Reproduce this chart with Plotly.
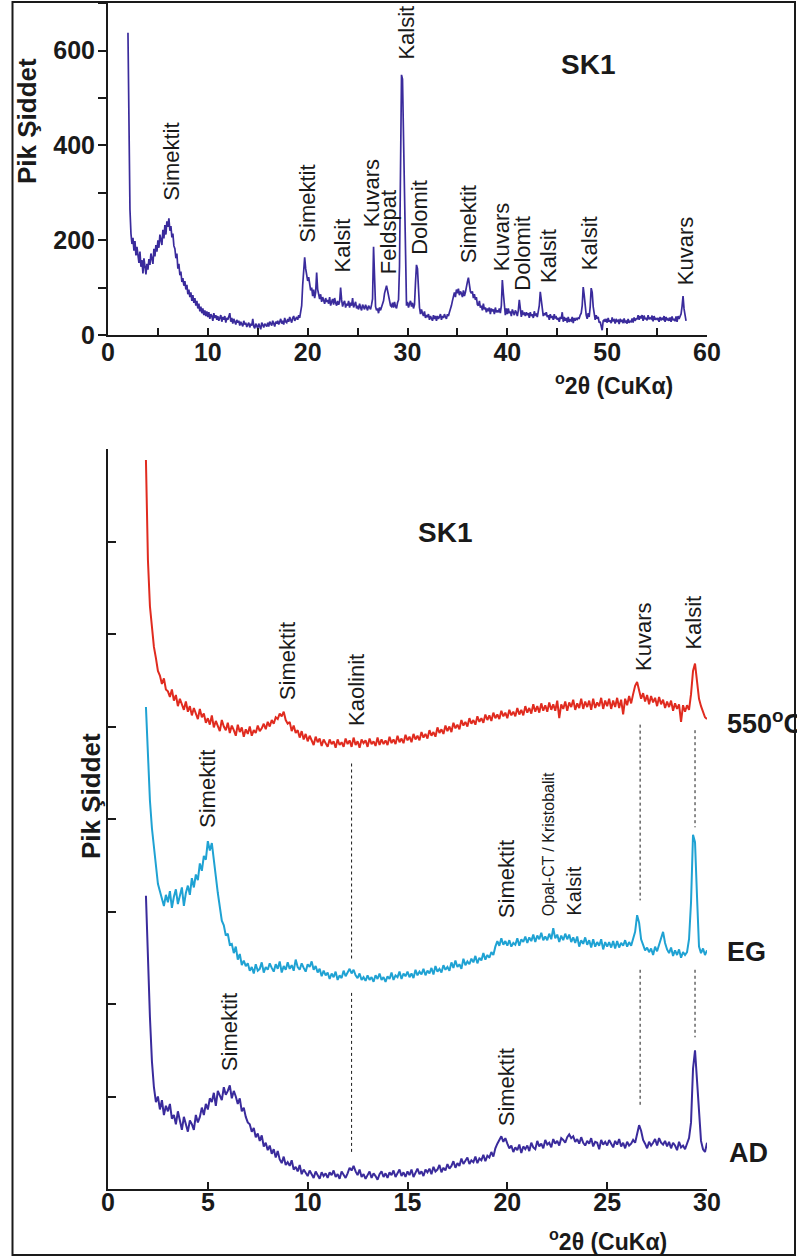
import plotly.graph_objects as go

W, H = 797, 1258
FONT = "Liberation Sans, Arial, sans-serif"
INK = "#1a1a1a"

# ---------------------------------------------------------------------------
# Bulk (whole-rock) pattern, SK1: counts per 0.1° step, 2.0° .. 57.9° 2θ
# one row per degree
# ---------------------------------------------------------------------------
bulk_start = 2.0
bulk_step = 0.1
bulk_counts = [
    638, 380, 265, 214, 192, 205, 178, 198, 168, 186,   # 2
    170, 152, 176, 144, 158, 130, 162, 140, 128, 150,   # 3
    138, 160, 148, 172, 156, 150, 182, 166, 190, 176,   # 4
    200, 184, 212, 196, 190, 222, 204, 232, 212, 240,   # 5
    228, 246, 220, 230, 206, 214, 188, 182, 162, 172,   # 6
    140, 150, 126, 134, 112, 120, 104, 114, 96, 106,    # 7
    86, 96, 80, 90, 72, 84, 68, 78, 62, 72,             # 8
    56, 66, 50, 60, 46, 56, 42, 52, 40, 50,             # 9
    38, 48, 34, 44, 40, 30, 46, 36, 42, 32,             # 10
    40, 30, 36, 42, 28, 38, 32, 40, 26, 36,             # 11
    32, 38, 46, 28, 36, 24, 34, 28, 22, 32,             # 12
    26, 30, 20, 28, 24, 18, 30, 22, 26, 17,             # 13
    22, 26, 16, 24, 20, 34, 18, 14, 24, 19,             # 14
    14, 24, 18, 12, 26, 20, 16, 24, 22, 18,             # 15
    26, 18, 28, 22, 20, 30, 24, 18, 28, 24,             # 16
    30, 22, 28, 34, 24, 30, 22, 36, 28, 26,             # 17
    34, 28, 38, 30, 26, 36, 40, 30, 34, 38,             # 18
    32, 42, 36, 46, 62, 105, 150, 164, 140, 126,        # 19
    114, 122, 102, 94, 100, 82, 96, 78, 90, 132,        # 20
    96, 84, 76, 86, 70, 80, 72, 66, 78, 70,             # 21
    74, 66, 80, 62, 70, 76, 64, 78, 68, 62,             # 22
    72, 64, 70, 100, 74, 60, 68, 72, 58, 66,            # 23
    62, 72, 58, 68, 62, 78, 58, 64, 70, 56,             # 24
    62, 54, 66, 58, 52, 64, 60, 54, 64, 56,             # 25
    52, 62, 58, 54, 64, 76, 186, 124, 60, 52,           # 26
    56, 46, 58, 52, 60, 64, 72, 88, 98, 104,            # 27
    94, 82, 72, 62, 60, 68, 58, 70, 60, 56,             # 28
    68, 74, 145, 300, 549, 540, 420, 245, 120, 62,      # 29
    70, 58, 66, 72, 60, 68, 56, 64, 110, 148,           # 30
    140, 76, 58, 44, 54, 46, 40, 50, 36, 42,            # 31
    38, 44, 32, 40, 36, 30, 42, 34, 40, 30,             # 32
    40, 34, 38, 44, 32, 40, 36, 44, 38, 34,             # 33
    44, 40, 48, 54, 62, 72, 84, 90, 80, 96,             # 34
    88, 98, 84, 92, 88, 80, 94, 82, 90, 98,             # 35
    112, 121, 100, 92, 88, 92, 78, 86, 74, 80,          # 36
    64, 62, 72, 58, 62, 52, 66, 54, 58, 48,             # 37
    56, 50, 58, 44, 56, 50, 54, 44, 58, 48,             # 38
    52, 48, 56, 46, 62, 116, 88, 52, 42, 56,            # 39
    44, 56, 46, 50, 40, 54, 46, 42, 52, 48,             # 40
    40, 52, 74, 48, 38, 52, 44, 46, 40, 48,             # 41
    42, 46, 36, 48, 40, 44, 36, 50, 42, 44,             # 42
    38, 50, 62, 91, 70, 50, 40, 46, 42, 48,             # 43
    38, 42, 32, 44, 36, 40, 32, 44, 36, 38,             # 44
    32, 36, 28, 38, 34, 48, 28, 38, 30, 36,             # 45
    26, 38, 28, 32, 30, 38, 25, 36, 30, 35,             # 46
    33, 36, 35, 42, 46, 62, 101, 84, 54, 42,            # 47
    34, 46, 38, 60, 99, 90, 60, 42, 32, 42,             # 48
    34, 38, 26, 28, 20, 10, 30, 32, 28, 34,             # 49
    26, 36, 28, 31, 25, 37, 30, 32, 24, 34,             # 50
    29, 31, 23, 34, 28, 32, 25, 35, 27, 29,             # 51
    24, 34, 26, 29, 28, 35, 26, 37, 30, 34,             # 52
    34, 42, 32, 40, 35, 42, 30, 41, 33, 36,             # 53
    31, 42, 33, 36, 34, 41, 29, 40, 32, 35,             # 54
    33, 36, 28, 38, 31, 35, 33, 40, 28, 38,             # 55
    31, 34, 30, 37, 28, 39, 31, 34, 29, 39,             # 56
    28, 40, 34, 38, 44, 60, 82, 55, 38, 30,             # 57
]

# peak labels on the bulk pattern
bulk_labels = ["Simektit", "Simektit", "Kalsit", "Kuvars", "Feldspat", "Kalsit",
               "Dolomit", "Simektit", "Kuvars", "Dolomit", "Kalsit", "Kalsit", "Kuvars"]
bulk_label_x = [6.4, 20.0, 23.5, 26.4, 28.1, 29.95, 31.2, 36.1, 39.5, 41.5, 44.1, 48.3, 57.8]
bulk_label_y = [279, 190, 127, 222, 123, 577, 165, 148, 131, 89, 106, 133, 101]

# ---------------------------------------------------------------------------
# Oriented clay fraction, SK1: 1.9° .. 30.0° 2θ in 0.1° steps (offset units)
# AD = air dried, EG = ethylene glycol, 550 °C = heated
# ---------------------------------------------------------------------------
clay_start = 1.9
clay_step = 0.1

ad_counts = [
    3.17,
    2.45, 1.86, 1.38, 1.10, 0.94, 1.00, 0.86, 0.96, 0.80, 0.90,   # 2
    0.84, 0.92, 0.76, 0.80, 0.70, 0.84, 0.74, 0.64, 0.78, 0.70,   # 3
    0.62, 0.74, 0.70, 0.64, 0.80, 0.72, 0.78, 0.88, 0.80, 0.92,   # 4
    0.86, 0.98, 0.94, 1.04, 0.90, 1.06, 1.00, 0.96, 1.10, 1.02,   # 5
    1.06, 1.12, 0.98, 1.06, 1.00, 0.92, 0.98, 0.84, 0.88, 0.78,   # 6
    0.72, 0.70, 0.62, 0.66, 0.56, 0.60, 0.52, 0.58, 0.46, 0.50,   # 7
    0.42, 0.47, 0.38, 0.43, 0.34, 0.41, 0.32, 0.28, 0.35, 0.26,   # 8
    0.29, 0.25, 0.31, 0.21, 0.24, 0.19, 0.26, 0.16, 0.21, 0.18,   # 9
    0.14, 0.20, 0.16, 0.12, 0.19, 0.15, 0.11, 0.18, 0.14, 0.17,   # 10
    0.12, 0.18, 0.15, 0.20, 0.13, 0.16, 0.11, 0.19, 0.15, 0.12,   # 11
    0.17, 0.23, 0.20, 0.25, 0.19, 0.15, 0.21, 0.13, 0.16, 0.11,   # 12
    0.15, 0.19, 0.12, 0.17, 0.14, 0.10, 0.16, 0.19, 0.13, 0.17,   # 13
    0.12, 0.18, 0.15, 0.20, 0.13, 0.17, 0.21, 0.14, 0.18, 0.13,   # 14
    0.19, 0.15, 0.21, 0.13, 0.18, 0.22, 0.16, 0.19, 0.14, 0.21,   # 15
    0.18, 0.22, 0.16, 0.24, 0.19, 0.21, 0.26, 0.18, 0.23, 0.20,   # 16
    0.27, 0.22, 0.25, 0.30, 0.23, 0.28, 0.25, 0.33, 0.27, 0.30,   # 17
    0.34, 0.27, 0.31, 0.29, 0.35, 0.28, 0.33, 0.31, 0.37, 0.30,   # 18
    0.36, 0.34, 0.40, 0.35, 0.44, 0.49, 0.53, 0.57, 0.51, 0.55,   # 19
    0.49, 0.44, 0.47, 0.40, 0.45, 0.42, 0.48, 0.39, 0.46, 0.43,   # 20
    0.47, 0.41, 0.50, 0.45, 0.43, 0.52, 0.46, 0.49, 0.44, 0.53,   # 21
    0.48, 0.50, 0.45, 0.54, 0.49, 0.52, 0.47, 0.55, 0.53, 0.50,   # 22
    0.56, 0.59, 0.55, 0.57, 0.51, 0.54, 0.49, 0.56, 0.50, 0.47,   # 23
    0.52, 0.49, 0.55, 0.46, 0.51, 0.50, 0.43, 0.53, 0.48, 0.51,   # 24
    0.47, 0.53, 0.49, 0.45, 0.52, 0.48, 0.54, 0.46, 0.50, 0.44,   # 25
    0.51, 0.47, 0.49, 0.53, 0.50, 0.60, 0.69, 0.63, 0.53, 0.49,   # 26
    0.44, 0.51, 0.47, 0.50, 0.54, 0.47, 0.55, 0.50, 0.48, 0.52,   # 27
    0.46, 0.51, 0.44, 0.50, 0.47, 0.42, 0.51, 0.45, 0.47, 0.43,   # 28
    0.49, 0.55, 0.72, 1.30, 1.50, 1.20, 0.85, 0.52, 0.43, 0.40,   # 29
    0.50,
]

eg_counts = [
    5.21,
    4.65, 4.20, 3.90, 3.68, 3.50, 3.30, 3.22, 3.15, 3.06, 3.18,   # 2
    3.10, 3.22, 3.04, 3.16, 3.24, 3.08, 3.18, 3.26, 3.06, 3.20,   # 3
    3.28, 3.18, 3.36, 3.26, 3.40, 3.34, 3.52, 3.44, 3.60, 3.56,   # 4
    3.76, 3.66, 3.74, 3.52, 3.38, 3.20, 3.02, 2.90, 2.85, 2.74,   # 5
    2.76, 2.64, 2.65, 2.55, 2.62, 2.48, 2.54, 2.42, 2.47, 2.41,   # 6
    2.44, 2.36, 2.40, 2.33, 2.43, 2.36, 2.38, 2.45, 2.34, 2.40,   # 7
    2.37, 2.44, 2.39, 2.35, 2.43, 2.38, 2.46, 2.34, 2.41, 2.37,   # 8
    2.45, 2.38, 2.42, 2.36, 2.48, 2.40, 2.37, 2.44, 2.39, 2.35,   # 9
    2.43, 2.40, 2.46, 2.37, 2.41, 2.34, 2.38, 2.30, 2.36, 2.31,   # 10
    2.34, 2.27, 2.33, 2.29, 2.35, 2.26, 2.31, 2.28, 2.36, 2.30,   # 11
    2.34, 2.38, 2.33, 2.37, 2.31, 2.28, 2.33, 2.26, 2.29, 2.25,   # 12
    2.31, 2.26, 2.29, 2.24, 2.31, 2.27, 2.33, 2.26, 2.29, 2.24,   # 13
    2.30, 2.27, 2.34, 2.26, 2.31, 2.29, 2.35, 2.27, 2.33, 2.30,   # 14
    2.35, 2.29, 2.33, 2.28, 2.37, 2.31, 2.35, 2.32, 2.38, 2.31,   # 15
    2.36, 2.33, 2.39, 2.32, 2.41, 2.35, 2.38, 2.34, 2.42, 2.37,   # 16
    2.40, 2.36, 2.45, 2.39, 2.47, 2.40, 2.43, 2.38, 2.49, 2.42,   # 17
    2.46, 2.43, 2.49, 2.45, 2.52, 2.44, 2.50, 2.47, 2.55, 2.48,   # 18
    2.53, 2.50, 2.56, 2.53, 2.62, 2.68, 2.63, 2.71, 2.64, 2.68,   # 19
    2.63, 2.69, 2.62, 2.66, 2.64, 2.71, 2.63, 2.70, 2.67, 2.73,   # 20
    2.66, 2.72, 2.68, 2.75, 2.67, 2.74, 2.70, 2.77, 2.69, 2.73,   # 21
    2.69, 2.76, 2.70, 2.82, 2.71, 2.75, 2.67, 2.74, 2.69, 2.76,   # 22
    2.70, 2.75, 2.67, 2.72, 2.66, 2.73, 2.62, 2.69, 2.65, 2.72,   # 23
    2.64, 2.69, 2.61, 2.70, 2.62, 2.67, 2.63, 2.70, 2.59, 2.67,   # 24
    2.62, 2.67, 2.61, 2.68, 2.60, 2.68, 2.61, 2.66, 2.63, 2.69,   # 25
    2.62, 2.67, 2.63, 2.70, 2.78, 2.96, 2.88, 2.70, 2.63, 2.58,   # 26
    2.61, 2.56, 2.60, 2.53, 2.62, 2.57, 2.64, 2.72, 2.78, 2.66,   # 27
    2.59, 2.55, 2.61, 2.52, 2.58, 2.53, 2.59, 2.50, 2.56, 2.53,   # 28
    2.56, 2.70, 3.10, 3.83, 3.75, 3.16, 2.62, 2.55, 2.60, 2.53,   # 29
    2.58,
]

heated_counts = [
    7.88,
    6.80, 6.30, 6.05, 5.86, 5.74, 5.60, 5.55, 5.46, 5.52, 5.40,   # 2
    5.38, 5.32, 5.40, 5.28, 5.34, 5.22, 5.30, 5.25, 5.18, 5.27,   # 3
    5.16, 5.22, 5.12, 5.20, 5.15, 5.08, 5.19, 5.10, 5.14, 5.04,   # 4
    5.09, 5.02, 5.12, 4.99, 5.06, 5.01, 4.95, 5.07, 5.00, 4.96,   # 5
    5.04, 4.93, 5.01, 4.96, 4.90, 5.02, 4.94, 4.99, 4.89, 4.97,   # 6
    4.92, 5.00, 4.90, 4.96, 4.93, 5.01, 4.95, 4.98, 5.03, 4.97,   # 7
    5.05, 5.00, 5.07, 5.03, 5.10, 5.08, 5.14, 5.11, 5.16, 5.07,   # 8
    5.03, 5.05, 4.95, 5.01, 4.93, 4.96, 4.88, 4.95, 4.86, 4.92,   # 9
    4.84, 4.90, 4.85, 4.80, 4.89, 4.83, 4.87, 4.79, 4.86, 4.82,   # 10
    4.78, 4.86, 4.81, 4.84, 4.77, 4.86, 4.80, 4.83, 4.78, 4.87,   # 11
    4.81, 4.85, 4.78, 4.88, 4.80, 4.84, 4.77, 4.86, 4.82, 4.85,   # 12
    4.78, 4.87, 4.81, 4.84, 4.79, 4.88, 4.80, 4.86, 4.81, 4.85,   # 13
    4.80, 4.89, 4.82, 4.86, 4.81, 4.90, 4.83, 4.87, 4.82, 4.91,   # 14
    4.85, 4.89, 4.83, 4.92, 4.86, 4.90, 4.85, 4.94, 4.88, 4.92,   # 15
    4.87, 4.96, 4.90, 4.94, 4.89, 4.99, 4.93, 4.97, 4.92, 5.01,   # 16
    4.95, 5.00, 4.94, 5.04, 4.98, 5.02, 4.97, 5.07, 5.01, 5.05,   # 17
    5.00, 5.09, 5.03, 5.07, 5.02, 5.11, 5.05, 5.09, 5.04, 5.13,   # 18
    5.07, 5.12, 5.06, 5.15, 5.09, 5.13, 5.08, 5.17, 5.11, 5.15,   # 19
    5.09, 5.18, 5.12, 5.16, 5.11, 5.20, 5.13, 5.18, 5.12, 5.22,   # 20
    5.15, 5.20, 5.14, 5.24, 5.16, 5.22, 5.15, 5.25, 5.17, 5.23,   # 21
    5.16, 5.26, 5.18, 5.24, 5.17, 5.28, 5.09, 5.24, 5.19, 5.27,   # 22
    5.17, 5.26, 5.21, 5.29, 5.18, 5.25, 5.20, 5.30, 5.19, 5.27,   # 23
    5.21, 5.28, 5.18, 5.30, 5.20, 5.26, 5.22, 5.31, 5.19, 5.28,   # 24
    5.22, 5.30, 5.19, 5.28, 5.21, 5.31, 5.20, 5.29, 5.13, 5.30,   # 25
    5.23, 5.33, 5.25, 5.35, 5.44, 5.48, 5.38, 5.30, 5.36, 5.27,   # 26
    5.34, 5.24, 5.33, 5.26, 5.31, 5.22, 5.32, 5.24, 5.29, 5.20,   # 27
    5.27, 5.21, 5.28, 5.17, 5.25, 5.19, 5.24, 5.05, 5.23, 5.16,   # 28
    5.23, 5.18, 5.35, 5.60, 5.68, 5.45, 5.30, 5.22, 5.17, 5.10,   # 29
    5.08,
]

clay_labels = ["Simektit", "Kaolinit", "Kuvars", "Kalsit",
               "Simektit", "Simektit", "Kalsit",
               "Simektit", "Simektit"]
clay_label_x = [9.0, 12.45, 26.85, 29.35, 4.95, 19.95, 23.35, 6.1, 20.0]
clay_label_y = [5.26, 4.98, 5.58, 5.81, 3.88, 2.91, 2.93, 1.25, 0.66]
clay_label_size = [22, 22, 22, 22, 22, 22, 20, 22, 22]
opal_label = "Opal-CT / Kristobalit"
opal_x, opal_y = 22.1, 2.93

# dotted guide lines: (2θ, [(y0, y1), ...])
guide_x = [12.2, 26.65, 29.4]
guide_spans = [[(4.60, 2.48), (2.12, 0.39)],
               [(5.02, 3.12), (2.37, 0.88)],
               [(4.96, 3.91), (2.37, 1.64)]]

treatments = ["550<sup>o</sup>C", "EG", "AD"]
treatment_px = [(725, 722), (725, 952), (727, 1153)]

PURPLE = "#3a2b9c"
CYAN = "#1fa2d3"
RED = "#e02b1f"


def grid(start, step, n):
    return [round(start + step * i, 2) for i in range(n)]


def px_x(p):
    return p / W


def px_y(p):
    return 1 - p / H


fig = go.Figure()

fig.add_trace(go.Scatter(x=grid(bulk_start, bulk_step, len(bulk_counts)), y=bulk_counts,
                         mode="lines", line=dict(color=PURPLE, width=1.7),
                         xaxis="x", yaxis="y", hoverinfo="skip"))

clay_x = grid(clay_start, clay_step, len(ad_counts))
for vals, col in [(heated_counts, RED), (eg_counts, CYAN), (ad_counts, PURPLE)]:
    fig.add_trace(go.Scatter(x=clay_x, y=vals, mode="lines",
                             line=dict(color=col, width=2),
                             xaxis="x2", yaxis="y2", hoverinfo="skip"))

tick_font = dict(family=FONT, size=25, color=INK, weight="bold")
axis_common = dict(showline=True, linecolor=INK, linewidth=2, showgrid=False,
                   zeroline=False, tickcolor=INK, tickwidth=2, tickfont=tick_font)

x_dom = [px_x(108), px_x(707)]
fig.update_layout(
    width=W, height=H,
    margin=dict(l=0, r=0, t=0, b=0, autoexpand=False),
    paper_bgcolor="white", plot_bgcolor="white", showlegend=False,
    xaxis=dict(domain=x_dom, range=[0, 60], anchor="y", tick0=0, dtick=10,
               ticks="inside", ticklen=7, ticklabelstandoff=-6,
               minor=dict(dtick=5, ticks="inside", ticklen=7, tickwidth=2, tickcolor=INK),
               **axis_common),
    yaxis=dict(domain=[px_y(335), px_y(3.3)], range=[0, 700], anchor="x", tick0=0, dtick=200,
               ticks="outside", ticklen=8, ticklabelstandoff=-2,
               minor=dict(dtick=100, ticks="outside", ticklen=8, tickwidth=2, tickcolor=INK),
               **axis_common),
    xaxis2=dict(domain=x_dom, range=[0, 30], anchor="y2", tick0=0, dtick=5,
                ticks="inside", ticklen=7, ticklabelstandoff=-10, **axis_common),
    yaxis2=dict(domain=[px_y(1189), px_y(449)], range=[0, 8], anchor="x2", tick0=0, dtick=1,
                ticks="inside", ticklen=8, showticklabels=False, **axis_common),
)

ann = []
label_font = dict(family=FONT, size=22, color=INK)
for t, x, y in zip(bulk_labels, bulk_label_x, bulk_label_y):
    ann.append(dict(text=t, x=x, y=y, xref="x", yref="y", textangle=-90,
                    xanchor="center", yanchor="bottom", showarrow=False, font=label_font))
for t, x, y, s in zip(clay_labels, clay_label_x, clay_label_y, clay_label_size):
    ann.append(dict(text=t, x=x, y=y, xref="x2", yref="y2", textangle=-90,
                    xanchor="center", yanchor="bottom", showarrow=False,
                    font=dict(family=FONT, size=s, color=INK)))
ann.append(dict(text=opal_label, x=opal_x, y=opal_y, xref="x2", yref="y2", textangle=-90,
                xanchor="center", yanchor="bottom", showarrow=False,
                font=dict(family=FONT, size=16, color=INK)))

bold = dict(family=FONT, color=INK, weight="bold")


def paper_text(text, px, py, size, angle=0):
    return dict(text=text, x=px_x(px), y=px_y(py), xref="paper", yref="paper",
                xanchor="center", yanchor="middle", textangle=angle,
                showarrow=False, font=dict(size=size, **bold))


# panel titles and axis titles
ann += [
    paper_text("SK1", 588, 65, 28),
    paper_text("SK1", 445, 532, 28),
    paper_text("Pik Şiddet", 27, 121, 26, -90),
    paper_text("Pik Şiddet", 91, 796, 26, -90),
    paper_text("<sup>o</sup>2θ (CuKα)", 614, 384, 23),
    paper_text("<sup>o</sup>2θ (CuKα)", 608, 1240, 23),
]
for t, (px, py) in zip(treatments, treatment_px):
    ann.append(dict(text=t, x=px_x(px), y=px_y(py), xref="paper", yref="paper",
                    xanchor="left", yanchor="middle", showarrow=False,
                    font=dict(size=27, **bold)))

shapes = []
for gx, spans in zip(guide_x, guide_spans):
    for y0, y1 in spans:
        shapes.append(dict(type="line", xref="x2", yref="y2", x0=gx, x1=gx, y0=y0, y1=y1,
                           line=dict(color=INK, width=1, dash="dot")))
# outer frame
shapes.append(dict(type="rect", xref="paper", yref="paper",
                   x0=px_x(12.5), x1=px_x(795), y0=px_y(1255), y1=px_y(2),
                   line=dict(color=INK, width=2)))

fig.update_layout(annotations=ann, shapes=shapes)
fig.write_html("out.html")
